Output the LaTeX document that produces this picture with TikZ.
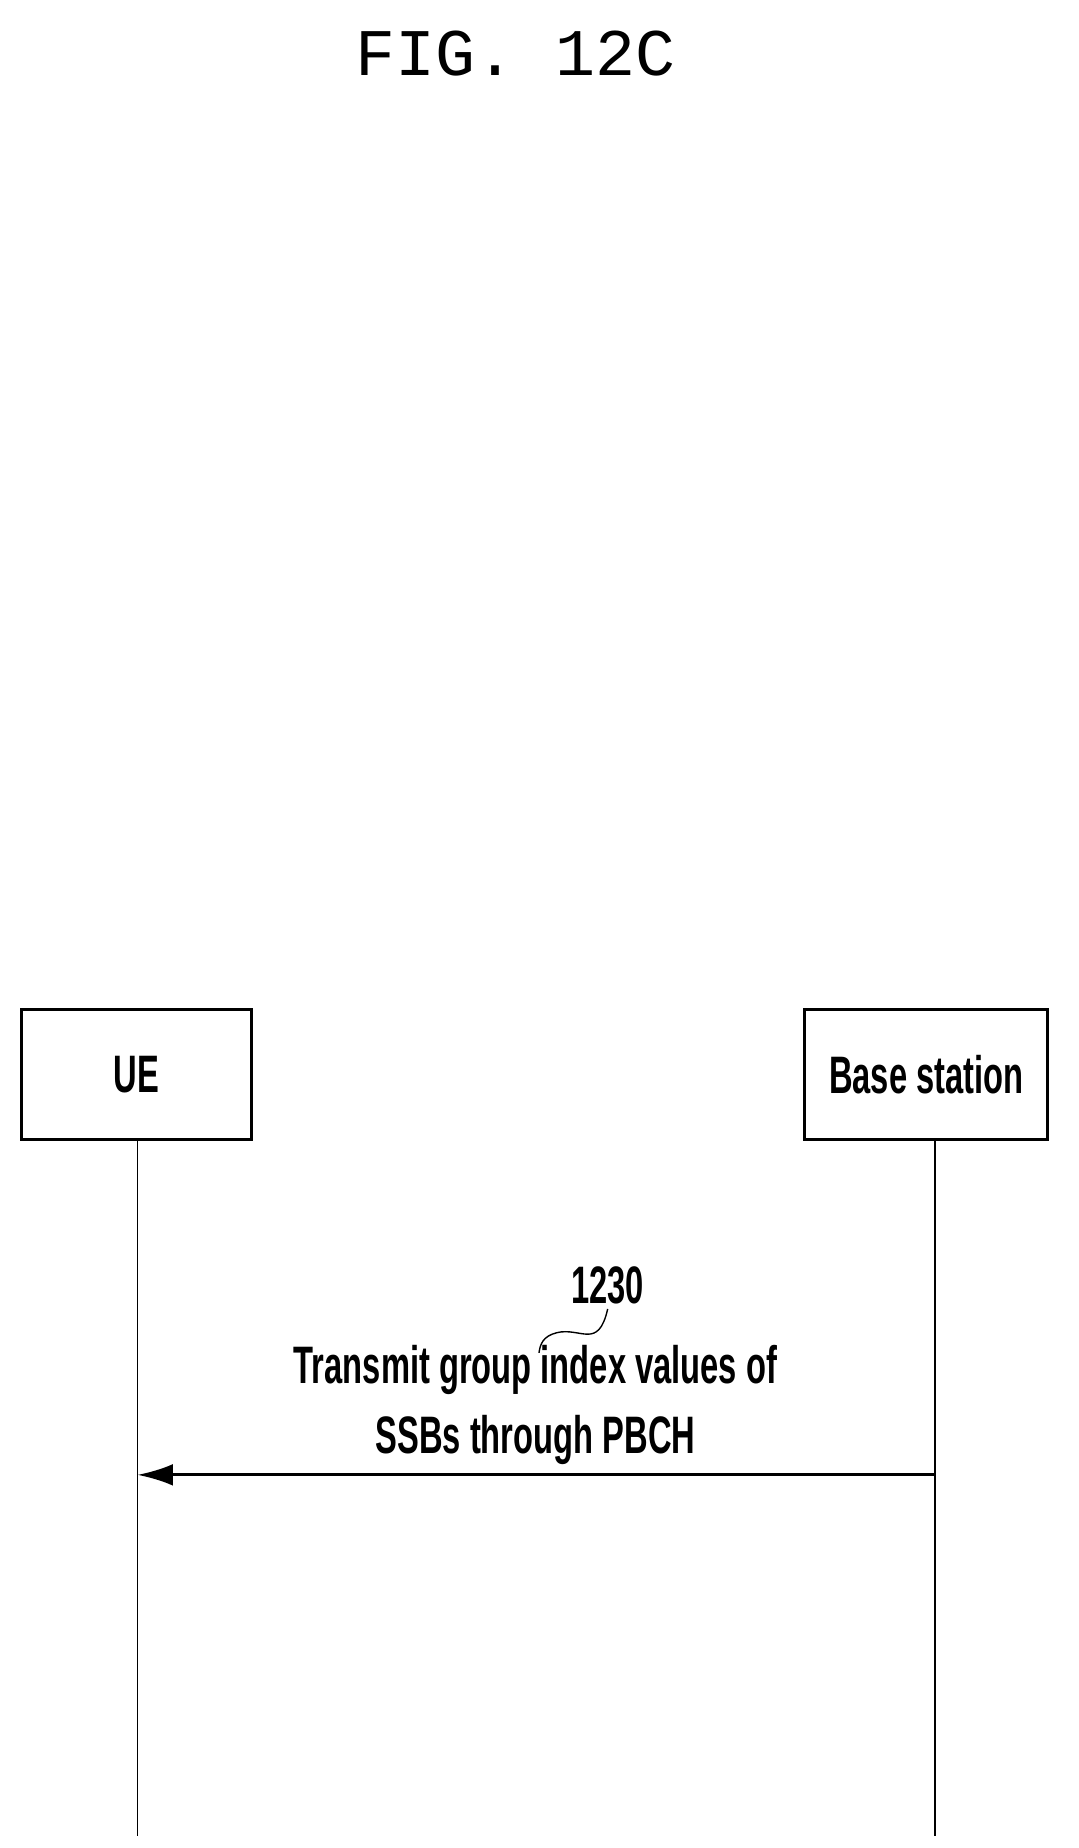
\documentclass[tikz,border=0pt]{standalone}
\usepackage{fontspec}
\setmainfont{Liberation Sans}
\newfontfamily\figfont{Liberation Mono}
\usetikzlibrary{positioning,arrows.meta}
\tikzset{msg/.style={font=\fontsize{38}{50}\selectfont\bfseries,align=center,xscale=0.62}}

\begin{document}
\begin{tikzpicture}[x=0.03cm,y=-0.03cm,>={Latex[length=0.9cm,width=0.55cm]}]
    \useasboundingbox (0,0) rectangle (910,1560);
    \node[font=\figfont\fontsize{48}{50}\selectfont] (title) at (435,45) {FIG. 12C};

    \node[draw,line width=2.2pt,minimum width=5.82cm,minimum height=3.3cm] (ue) at (115,907) {};
    \node[msg] at (ue) {UE};
    \node[draw,line width=2.2pt,minimum width=6.15cm,minimum height=3.3cm] (bs) at (782,907) {};
    \node[msg] at (bs) {Base station};

    \coordinate (ueend) at (116,1550);
    \coordinate (bsend) at (789,1550);
    \draw[line width=1.3pt] (ue.south -| ueend) -- (ueend);
    \draw[line width=1.3pt] (bs.south -| bsend) -- (bsend);

    \coordinate (uemsg) at (116,1245);
    \coordinate (bsmsg) at (789,1245);
    \draw[->,line width=2.2pt] (bsmsg) -- (uemsg);

    \node[msg] (txt) at (452,1186) {Transmit group index values of\\SSBs through PBCH};
    \node[msg] (ref) at (513,1085) {1230};
    \draw[line width=1pt] (ref.south) .. controls (505,1140) and (490,1120) .. (470,1125) .. controls (458,1128) and (456,1135) .. (455,1142);
\end{tikzpicture}
\end{document}
